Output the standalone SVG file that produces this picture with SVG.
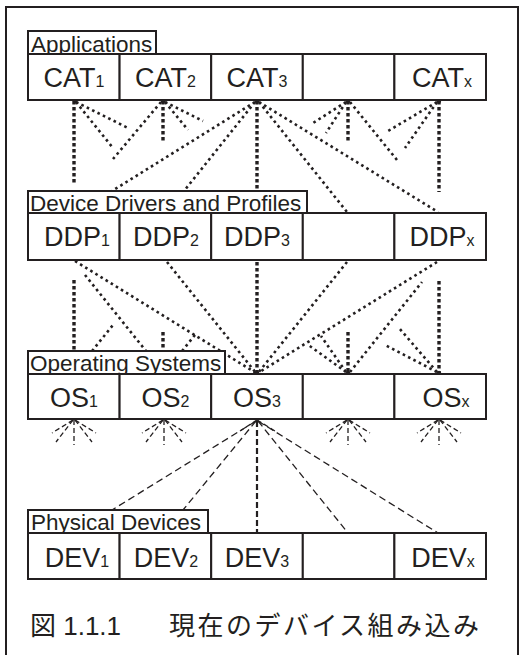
<svg xmlns="http://www.w3.org/2000/svg" width="519" height="655" viewBox="0 0 519 655">
<style>
.frame{fill:none;stroke:#231f20;stroke-width:2}
.cell{fill:#fff;stroke:#231f20;stroke-width:2}
.lab{fill:#fff;stroke:#231f20;stroke-width:2}
.t{font-family:"Liberation Sans",Arial,sans-serif;font-size:27px;fill:#231f20;text-anchor:middle}
.s{font-size:16px}
.lt{font-family:"Liberation Sans",Arial,sans-serif;font-size:22.5px;fill:#231f20}
.cap{font-family:"Liberation Sans","Noto Sans CJK JP",sans-serif;font-size:26px;fill:#231f20}
.dv{fill:none;stroke:#231f20;stroke-width:3.4;stroke-dasharray:3.4 2.6}
.dd{fill:none;stroke:#231f20;stroke-width:2.6;stroke-dasharray:2.6 3.4}
.ds{fill:none;stroke:#231f20;stroke-width:1.3;stroke-dasharray:7 4}
.dsv{fill:none;stroke:#231f20;stroke-width:2.2;stroke-dasharray:6 3}
.fan{fill:none;stroke:#231f20;stroke-width:1.3;stroke-dasharray:5 3}
.pt{fill:#231f20}
</style>
<defs>
<g id="fanShape">
<line class="fan" x1="0" y1="1" x2="0" y2="26"/>
<line class="fan" x1="-1" y1="1" x2="-22" y2="14"/>
<line class="fan" x1="-1" y1="1" x2="-18" y2="23"/>
<line class="fan" x1="1" y1="1" x2="22" y2="14"/>
<line class="fan" x1="1" y1="1" x2="18" y2="23"/>
</g>
</defs>
<rect class="frame" x="6" y="7" width="512" height="660"/>
<g id="connectors">
<!-- CAT to DDP -->
<line class="dv" x1="74" y1="101" x2="74" y2="185"/>
<line class="dd" x1="76" y1="102" x2="128" y2="128"/>
<line class="dd" x1="76" y1="102" x2="113" y2="148"/>
<line class="dv" x1="163" y1="101" x2="163" y2="141"/>
<line class="dd" x1="161" y1="102" x2="113" y2="159"/>
<line class="dd" x1="165" y1="102" x2="203" y2="121"/>
<line class="dd" x1="165" y1="102" x2="188" y2="130"/>
<line class="dv" x1="257" y1="101" x2="257" y2="190"/>
<line class="dd" x1="255" y1="102" x2="112" y2="191"/>
<line class="dd" x1="255" y1="102" x2="184" y2="191"/>
<line class="dd" x1="259" y1="102" x2="347" y2="212"/>
<line class="dd" x1="259" y1="102" x2="438" y2="212"/>
<line class="dv" x1="348" y1="101" x2="348" y2="142"/>
<line class="dd" x1="346" y1="102" x2="313" y2="123"/>
<line class="dd" x1="346" y1="102" x2="326" y2="133"/>
<line class="dd" x1="350" y1="102" x2="397" y2="160"/>
<line class="dv" x1="439" y1="101" x2="439" y2="192"/>
<line class="dd" x1="437" y1="102" x2="388" y2="131"/>
<line class="dd" x1="437" y1="102" x2="405" y2="148"/>
<circle class="pt" cx="75" cy="101" r="2.2"/>
<circle class="pt" cx="163" cy="101" r="2.2"/>
<circle class="pt" cx="257" cy="101" r="2.2"/>
<circle class="pt" cx="348" cy="101" r="2.2"/>
<circle class="pt" cx="439" cy="101" r="2.2"/>
<!-- DDP to OS -->
<line class="dd" x1="75" y1="261" x2="256" y2="373"/>
<line class="dd" x1="85" y1="275" x2="146" y2="351"/>
<line class="dv" x1="74" y1="280" x2="74" y2="351"/>
<line class="dd" x1="92" y1="351" x2="113" y2="325"/>
<line class="dv" x1="163" y1="332" x2="163" y2="351"/>
<line class="dd" x1="182" y1="351" x2="195" y2="335"/>
<line class="dd" x1="167" y1="262" x2="256" y2="373"/>
<line class="dv" x1="257" y1="262" x2="257" y2="373"/>
<line class="dd" x1="347" y1="262" x2="258" y2="373"/>
<line class="dd" x1="437" y1="262" x2="258" y2="373"/>
<line class="dd" x1="346" y1="372" x2="307" y2="344"/>
<line class="dd" x1="346" y1="372" x2="321" y2="336"/>
<line class="dv" x1="348" y1="332" x2="348" y2="373"/>
<line class="dd" x1="350" y1="372" x2="422" y2="282"/>
<line class="dv" x1="439" y1="281" x2="439" y2="373"/>
<line class="dd" x1="437" y1="372" x2="385" y2="345"/>
<line class="dd" x1="437" y1="372" x2="399" y2="328"/>
<circle class="pt" cx="257" cy="373" r="2.2"/>
<circle class="pt" cx="348" cy="373" r="2.2"/>
<circle class="pt" cx="439" cy="373" r="2.2"/>
<!-- OS to DEV -->
<use href="#fanShape" x="74" y="419"/>
<use href="#fanShape" x="164" y="419"/>
<use href="#fanShape" x="348" y="419"/>
<use href="#fanShape" x="439" y="419"/>
<line class="ds" x1="256" y1="421" x2="112" y2="510"/>
<line class="ds" x1="256" y1="421" x2="183" y2="510"/>
<line class="dsv" x1="257" y1="421" x2="257" y2="533"/>
<line class="ds" x1="258" y1="421" x2="348" y2="533"/>
<line class="ds" x1="258" y1="421" x2="438" y2="533"/>
<line class="fan" x1="257" y1="420" x2="240" y2="431"/>
<line class="fan" x1="257" y1="420" x2="275" y2="431"/>
</g>
<g id="applications">
<rect class="lab" x="28" y="31" width="128" height="23"/>
<text class="lt" x="31" y="52">Applications</text>
</g>
<g id="cat1"><rect class="cell" x="28" y="54" width="91.6" height="46"/><text class="t" x="74" y="87">CAT<tspan class="s">1</tspan></text></g>
<g id="cat2"><rect class="cell" x="119.6" y="54" width="91.6" height="46"/><text class="t" x="165.4" y="87">CAT<tspan class="s">2</tspan></text></g>
<g id="cat3"><rect class="cell" x="211.2" y="54" width="91.6" height="46"/><text class="t" x="257" y="87">CAT<tspan class="s">3</tspan></text></g>
<g id="cat4"><rect class="cell" x="302.8" y="54" width="91.6" height="46"/></g>
<g id="catx"><rect class="cell" x="394.4" y="54" width="91.6" height="46"/><text class="t" x="442" y="87">CAT<tspan class="s">x</tspan></text></g>

<g id="ddp-label">
<rect class="lab" x="28" y="191" width="279" height="22"/>
<text class="lt" x="30" y="210.5">Device Drivers and Profiles</text>
</g>
<g id="ddp1"><rect class="cell" x="28" y="213" width="91.6" height="47"/><text class="t" x="77" y="246">DDP<tspan class="s">1</tspan></text></g>
<g id="ddp2"><rect class="cell" x="119.6" y="213" width="91.6" height="47"/><text class="t" x="166" y="246">DDP<tspan class="s">2</tspan></text></g>
<g id="ddp3"><rect class="cell" x="211.2" y="213" width="91.6" height="47"/><text class="t" x="257" y="246">DDP<tspan class="s">3</tspan></text></g>
<g id="ddp4"><rect class="cell" x="302.8" y="213" width="91.6" height="47"/></g>
<g id="ddpx"><rect class="cell" x="394.4" y="213" width="91.6" height="47"/><text class="t" x="442" y="246">DDP<tspan class="s">x</tspan></text></g>

<g id="os-label">
<rect class="lab" x="28" y="351" width="197" height="23"/>
<text class="lt" x="30" y="371">Operating Systems</text>
</g>
<g id="os1"><rect class="cell" x="28" y="374" width="91.6" height="45"/><text class="t" x="74" y="407">OS<tspan class="s">1</tspan></text></g>
<g id="os2"><rect class="cell" x="119.6" y="374" width="91.6" height="45"/><text class="t" x="165.4" y="407">OS<tspan class="s">2</tspan></text></g>
<g id="os3"><rect class="cell" x="211.2" y="374" width="91.6" height="45"/><text class="t" x="257" y="407">OS<tspan class="s">3</tspan></text></g>
<g id="os4"><rect class="cell" x="302.8" y="374" width="91.6" height="45"/></g>
<g id="osx"><rect class="cell" x="394.4" y="374" width="91.6" height="45"/><text class="t" x="446" y="407">OS<tspan class="s">x</tspan></text></g>

<g id="dev-label">
<rect class="lab" x="28" y="510" width="180" height="23"/>
<text class="lt" x="31" y="530">Physical Devices</text>
</g>
<g id="dev1"><rect class="cell" x="28" y="533" width="91.6" height="46"/><text class="t" x="77" y="567">DEV<tspan class="s">1</tspan></text></g>
<g id="dev2"><rect class="cell" x="119.6" y="533" width="91.6" height="46"/><text class="t" x="166" y="567">DEV<tspan class="s">2</tspan></text></g>
<g id="dev3"><rect class="cell" x="211.2" y="533" width="91.6" height="46"/><text class="t" x="257" y="567">DEV<tspan class="s">3</tspan></text></g>
<g id="dev4"><rect class="cell" x="302.8" y="533" width="91.6" height="46"/></g>
<g id="devx"><rect class="cell" x="394.4" y="533" width="91.6" height="46"/><text class="t" x="443" y="567">DEV<tspan class="s">x</tspan></text></g>

<g id="caption">
<text class="cap" x="30" y="635">図 1.1.1</text>
<text class="cap" x="169" y="635" textLength="310" lengthAdjust="spacing">現在のデバイス組み込み</text>
</g>
</svg>
